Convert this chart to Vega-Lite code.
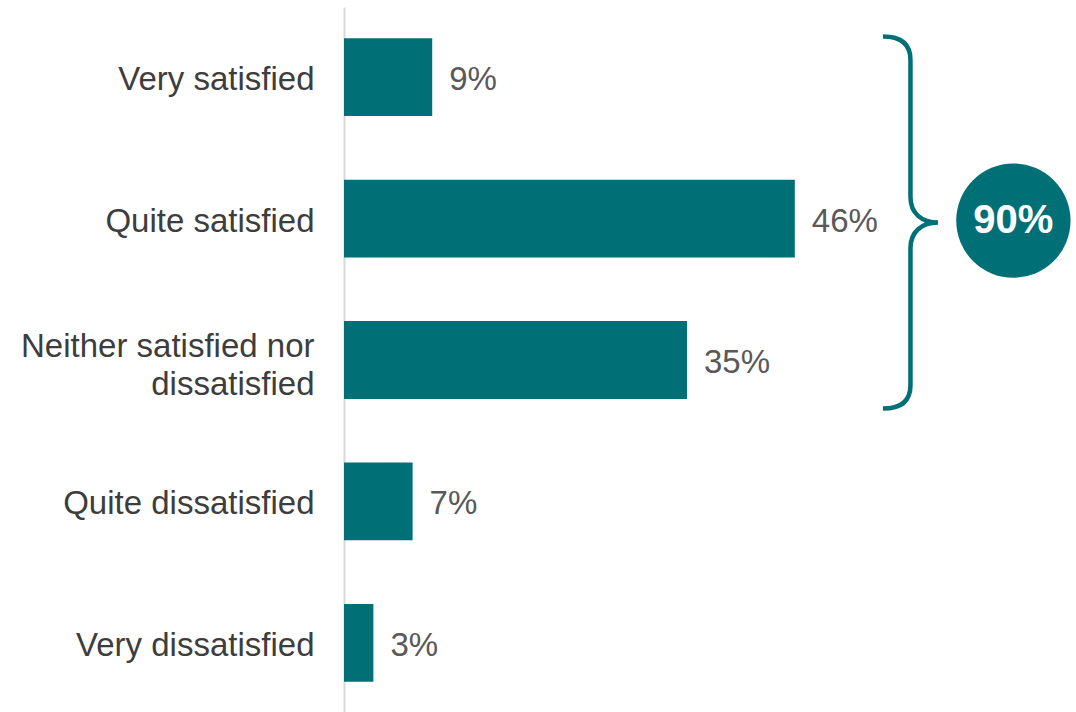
{
  "$schema": "https://vega.github.io/schema/vega-lite/v6.json",
  "width": 732,
  "height": 706,
  "autosize": {"type": "none"},
  "padding": {"left": 344, "top": 7, "right": 0, "bottom": 0},
  "background": "white",
  "config": {
    "view": {"stroke": null},
    "font": "Liberation Sans",
    "axisY": {
      "title": null, "ticks": false, "grid": false,
      "domainColor": "#d9d9d9", "domainWidth": 2,
      "labelFontSize": 33, "labelColor": "#3d3d3d", "labelPadding": 30,
      "labelLimit": 400, "labelLineHeight": 37.5, "labelFont": "Liberation Sans"
    }
  },
  "datasets": {
    "responses": [
      {"category": "Very satisfied", "value": 0.09},
      {"category": "Quite satisfied", "value": 0.46},
      {"category": "Neither satisfied nor dissatisfied", "value": 0.35},
      {"category": "Quite dissatisfied", "value": 0.07},
      {"category": "Very dissatisfied", "value": 0.03}
    ],
    "summary": [
      {"anchor": "Quite satisfied", "label": "90%"}
    ]
  },
  "layer": [
    {
      "data": {"name": "responses"},
      "mark": {"type": "bar", "color": "#007076"},
      "encoding": {
        "y": {
          "field": "category", "type": "nominal",
          "scale": {"domain": ["Very satisfied", "Quite satisfied", "Neither satisfied nor dissatisfied", "Quite dissatisfied", "Very dissatisfied"], "paddingInner": 0.45, "paddingOuter": 0.2214},
          "axis": {
            "title": null,
            "labelOffset": {"condition": {"test": "datum.value == 'Neither satisfied nor dissatisfied'", "value": -13}, "value": 3},
            "labelExpr": "datum.label == 'Neither satisfied nor dissatisfied' ? ['Neither satisfied nor', 'dissatisfied'] : datum.label"
          }
        },
        "x": {"field": "value", "type": "quantitative", "scale": {"domain": [0, 0.7469], "nice": false}, "axis": null}
      }
    },
    {
      "data": {"name": "responses"},
      "mark": {"type": "text", "align": "left", "baseline": "middle", "dx": 17, "dy": 3, "fontSize": 33, "color": "#595959"},
      "encoding": {
        "y": {"field": "category", "type": "nominal"},
        "x": {"field": "value", "type": "quantitative", "axis": null},
        "text": {"field": "value", "type": "quantitative", "format": ".0%"}
      }
    },
    {
      "data": {"name": "summary"},
      "mark": {
        "type": "point",
        "shape": "M -0.148 -1 C -0.05 -1 0 -0.96 0 -0.874 L 0 -0.137 C 0 -0.05 0.06 0 0.148 0 C 0.06 0 0 0.05 0 0.137 L 0 0.874 C 0 0.96 -0.05 1 -0.148 1",
        "size": 138384, "filled": false, "color": "#007076", "strokeWidth": 4.5, "opacity": 1, "yOffset": 4
      },
      "encoding": {
        "x": {"datum": 0.578, "type": "quantitative", "axis": null},
        "y": {"field": "anchor", "type": "nominal", "title": null}
      }
    },
    {
      "data": {"name": "summary"},
      "mark": {"type": "circle", "size": 13070, "color": "#007076", "opacity": 1, "yOffset": 2},
      "encoding": {
        "x": {"datum": 0.683, "type": "quantitative", "axis": null},
        "y": {"field": "anchor", "type": "nominal", "title": null}
      }
    },
    {
      "data": {"name": "summary"},
      "mark": {"type": "text", "align": "center", "baseline": "middle", "fontSize": 40, "fontWeight": "bold", "color": "white", "yOffset": 2},
      "encoding": {
        "x": {"datum": 0.683, "type": "quantitative", "axis": null},
        "y": {"field": "anchor", "type": "nominal", "title": null},
        "text": {"field": "label"}
      }
    }
  ]
}
